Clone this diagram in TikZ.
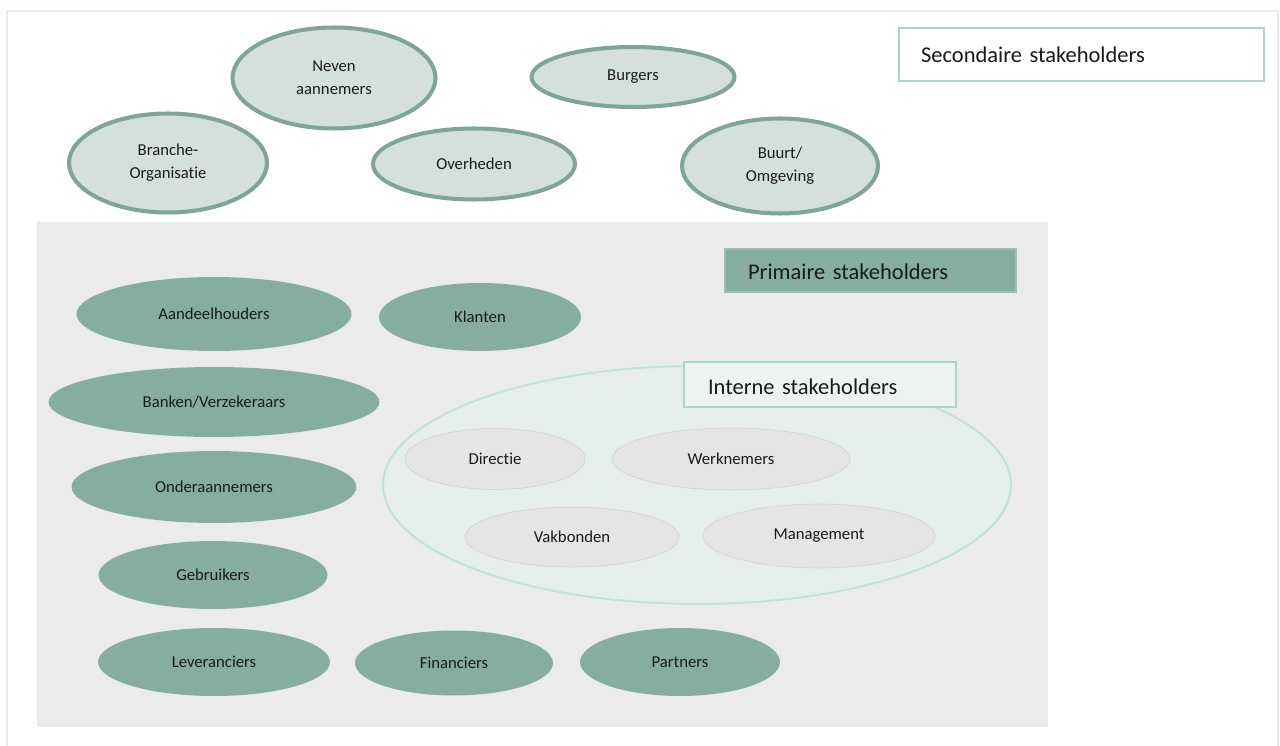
\documentclass[tikz,border=0pt]{standalone}
\usepackage{fontspec}
\setmainfont[Ligatures=NoCommon]{Carlito}
\usetikzlibrary{shapes.geometric}

\definecolor{secfill}{HTML}{D3E0DC}
\definecolor{secline}{HTML}{7FA596}
\definecolor{primfill}{HTML}{86AE9F}
\definecolor{backgray}{HTML}{EBEBEB}
\definecolor{intfill}{HTML}{E5EEEB}
\definecolor{intline}{HTML}{BDE4D6}
\definecolor{boxline}{HTML}{A6D8C6}
\definecolor{innerfill}{HTML}{E5E5E5}
\definecolor{framecol}{HTML}{E6EDEB}
\definecolor{txt}{HTML}{1A1A1A}

\tikzset{
  secondair/.style={ellipse, draw=secline, line width=2.3pt, fill=secfill,
    inner sep=0pt, align=center, text=txt, font=\fontsize{9.5}{13}\selectfont},
  primair/.style={ellipse, fill=primfill, inner sep=0pt, text=txt,
    font=\fontsize{9.5}{13}\selectfont},
  intern/.style={ellipse, draw=innerfill!90!black, line width=0.3pt, fill=innerfill,
    inner sep=0pt, text=txt, font=\fontsize{9.5}{13}\selectfont},
  labelbox/.style={rectangle, draw=boxline, line width=0.9pt, align=left,
    text=txt, font=\fontsize{12.8}{15}\selectfont, inner ysep=0pt}
}

\begin{document}
\begin{tikzpicture}[x=0.02cm, y=-0.02cm]
  \useasboundingbox (0,0) rectangle (1280,746);

  % frame and primary area
  \draw[framecol, line width=1.5pt] (7,760) -- (7,11) -- (1278,11) -- (1278,760);
  \fill[backgray] (37,222) rectangle (1048,727);

  % secondary stakeholders
  \node[labelbox, fill=white, minimum width=7.3cm, minimum height=1.06cm,
        text width=6.42cm, inner xsep=0.44cm] (seclabel) at (1081.5,54.5) {Secondaire stakeholders};

  \node[secondair, minimum width=4.06cm, minimum height=2.02cm] (neven) at (334,78) {Neven\\aannemers};
  \node[secondair, minimum width=4.06cm, minimum height=1.2cm] (burgers) at (633,77) {Burgers};
  \node[secondair, minimum width=3.96cm, minimum height=1.98cm] (branche) at (168,163) {Branche-\\Organisatie};
  \node[secondair, minimum width=4.04cm, minimum height=1.42cm] (overheden) at (474,164) {Overheden};
  \node[secondair, minimum width=3.92cm, minimum height=1.9cm] (buurt) at (780,166) {Buurt/\\Omgeving};

  % primary stakeholders
  \node[labelbox, draw=primfill!80!white, fill=primfill, minimum width=5.82cm, minimum height=0.86cm,
        text width=4.9cm, inner xsep=0.46cm, text height=0.36cm] (primlabel) at (870.5,270.5) {Primaire stakeholders};

  \node[primair, minimum width=5.5cm, minimum height=1.48cm] (aandeel) at (214,314) {Aandeelhouders};
  \node[primair, minimum width=4.04cm, minimum height=1.36cm] (klanten) at (480,317) {Klanten};
  \node[primair, minimum width=6.62cm, minimum height=1.4cm] (banken) at (214,402) {Banken/Verzekeraars};
  \node[primair, minimum width=5.7cm, minimum height=1.44cm] (onder) at (214,487) {Onderaannemers};
  \node[primair, minimum width=4.58cm, minimum height=1.36cm] (gebruikers) at (213,575) {Gebruikers};
  \node[primair, minimum width=4.64cm, minimum height=1.36cm] (leveranciers) at (214,662) {Leveranciers};
  \node[primair, minimum width=3.96cm, minimum height=1.3cm] (financiers) at (454,663) {Financiers};
  \node[primair, minimum width=4.0cm, minimum height=1.36cm] (partners) at (680,662) {Partners};

  % internal stakeholders
  \node[ellipse, draw=intline, line width=1.1pt, fill=intfill,
        minimum width=12.56cm, minimum height=4.76cm] (internkring) at (697,485) {};
  \node[labelbox, fill=intfill!70!white, minimum width=5.44cm, minimum height=0.9cm,
        text width=4.48cm, inner xsep=0.48cm, text height=0.4cm] (intlabel) at (820,384.5) {Interne stakeholders};

  \node[intern, minimum width=3.6cm, minimum height=1.22cm] (directie) at (495,459) {Directie};
  \node[intern, minimum width=4.76cm, minimum height=1.24cm] (werknemers) at (731,459) {Werknemers};
  \node[intern, minimum width=4.28cm, minimum height=1.2cm] (vakbonden) at (572,537) {Vakbonden};
  \node[intern, minimum width=4.64cm, minimum height=1.28cm] (management) at (819,536) {Management};
\end{tikzpicture}
\end{document}
